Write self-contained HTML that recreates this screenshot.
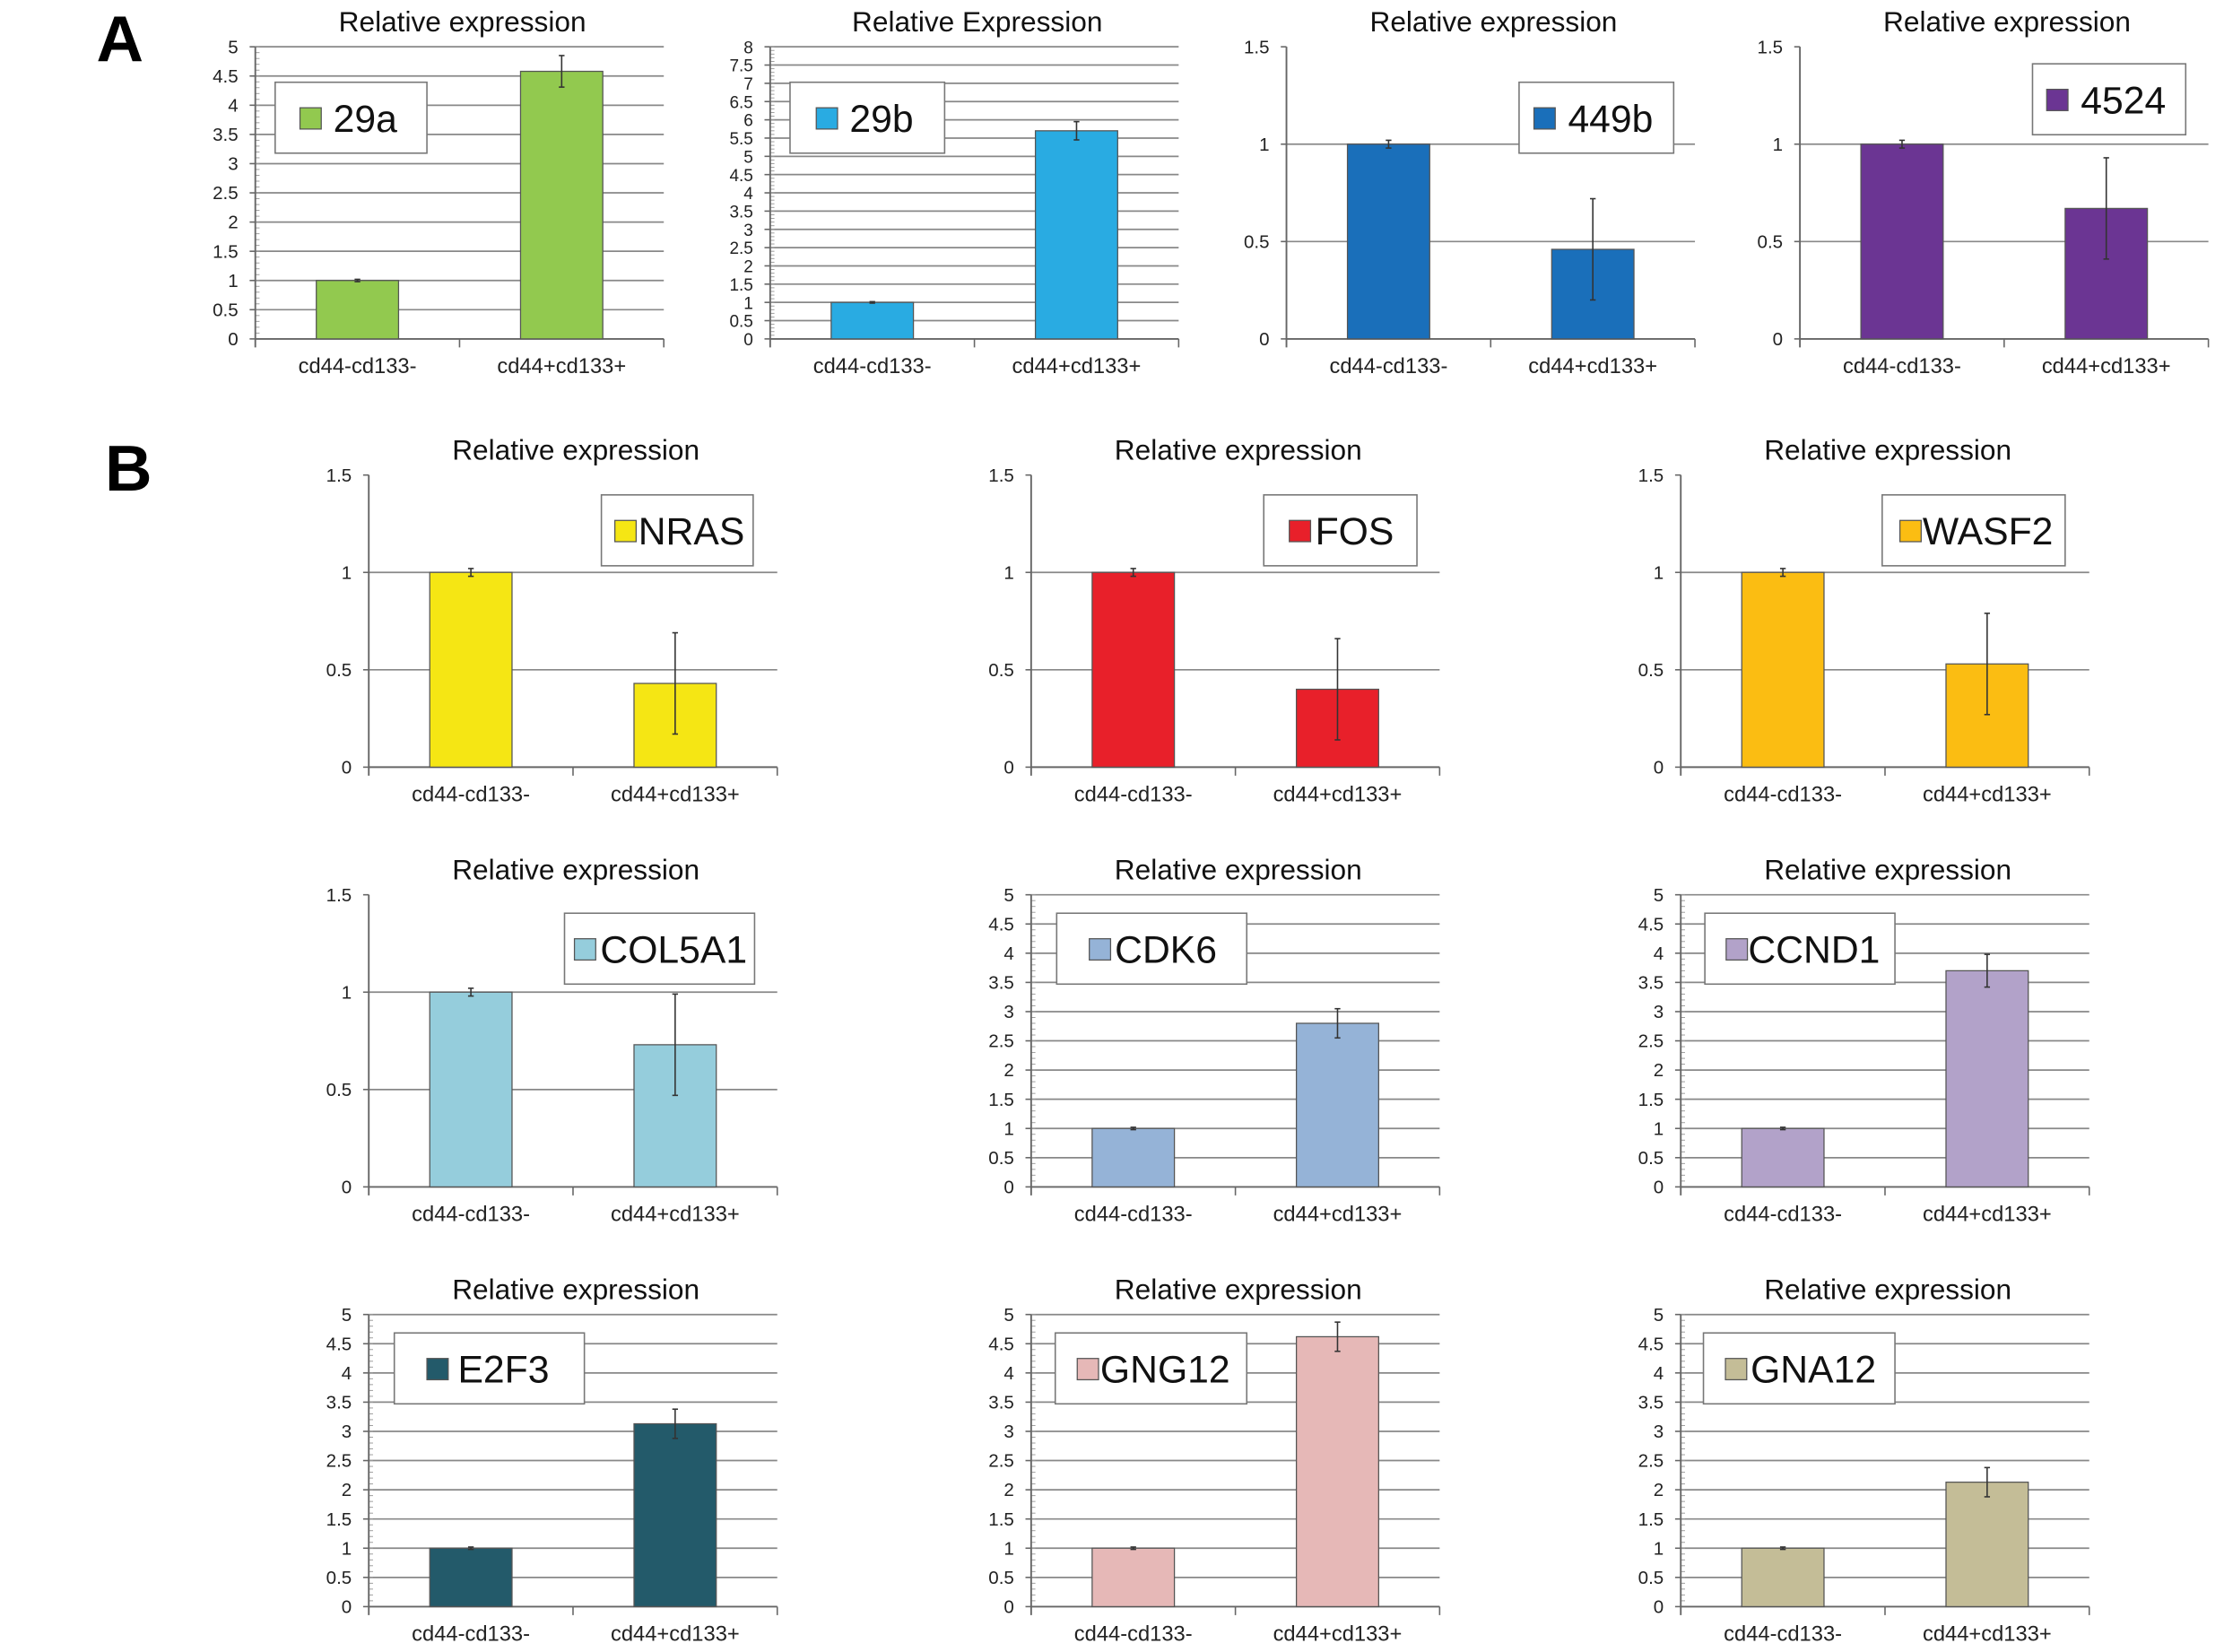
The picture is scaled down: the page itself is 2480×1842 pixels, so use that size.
<!DOCTYPE html>
<html><head><meta charset="utf-8"><style>
html,body{margin:0;padding:0;background:#fff}
svg{display:block;font-family:"Liberation Sans",Arial,sans-serif}
</style></head><body>
<svg id="fig" width="2480" height="1842" viewBox="0 0 1568 1165" preserveAspectRatio="none" xmlns="http://www.w3.org/2000/svg">
<text x="68" y="43" font-size="46" font-weight="bold">A</text>
<text x="74" y="346" font-size="46" font-weight="bold">B</text>
</svg>
<script>
const categories = ["cd44-cd133-", "cd44+cd133+"];
const genes = ["29a","29b","449b","4524","NRAS","FOS","WASF2","COL5A1","CDK6","CCND1","E2F3","GNG12","GNA12"];
const titles = ["Relative expression","Relative Expression","Relative expression","Relative expression","Relative expression","Relative expression","Relative expression","Relative expression","Relative expression","Relative expression","Relative expression","Relative expression","Relative expression"];
const negValues = [1,1,1,1,1,1,1,1,1,1,1,1,1];
const posValues = [4.58,5.7,0.46,0.67,0.43,0.40,0.53,0.73,2.8,3.7,3.13,4.62,2.13];
const posErrors = [0.27,0.25,0.26,0.26,0.26,0.26,0.26,0.26,0.25,0.28,0.25,0.25,0.25];
const negErrors = [0.02,0.02,0.02,0.02,0.02,0.02,0.02,0.02,0.02,0.02,0.02,0.02,0.02];
const yMaxes = [5,8,1.5,1.5,1.5,1.5,1.5,1.5,5,5,5,5,5];
const colors = ["#92c94f","#29abe2","#1a6fba","#6b3593","#f5e614","#e8202a","#fbbd12","#95cddc","#95b3d7","#b2a2c9","#235a6a","#e6b8b7","#c4bd97"];

const layout = [
 {x:180,y:33,lx:194,ly:58,lw:107},{x:543,y:33,lx:557,ly:58,lw:109},{x:907,y:33,lx:1071,ly:58,lw:109},{x:1269,y:33,lx:1433,ly:45,lw:108},
 {x:260,y:335,lx:424,ly:349,lw:107},{x:727,y:335,lx:891,ly:349,lw:108},{x:1185,y:335,lx:1327,ly:349,lw:129},
 {x:260,y:631,lx:398,ly:644,lw:134},{x:727,y:631,lx:745,ly:644,lw:134},{x:1185,y:631,lx:1202,ly:644,lw:134},
 {x:260,y:927,lx:278,ly:940,lw:134},{x:727,y:927,lx:744,ly:940,lw:135},{x:1185,y:927,lx:1201,ly:940,lw:135}
];
const W=288,H=206,NS="http://www.w3.org/2000/svg";
const svg=document.getElementById('fig');
function mk(t,a,p){const e=document.createElementNS(NS,t);for(const k in a)e.setAttribute(k,a[k]);(p||svg).appendChild(e);return e;}
genes.forEach((g,i)=>{
  const L=layout[i],ym=yMaxes[i];
  const grp=mk('g',{});
  
  
  const y=v=>L.y+H-v/ym*H;
  const step=0.5;
  const minor = ym<=1.5?0:0.1;
  for(let v=0;v<=ym+1e-9;v+=step){
    const yy=y(v);
    if(v>0 && !(ym<=1.5 && v>=ym-1e-9)) mk('line',{x1:L.x,x2:L.x+W,y1:yy,y2:yy,stroke:'#888','stroke-width':1.1},grp);
    const t=mk('text',{x:L.x-12,y:yy+4.5,'font-size':ym>5?12:13,'text-anchor':'end',fill:'#222'},grp);
    t.textContent=String(+v.toFixed(1));
    
    
    mk('line',{x1:L.x-4,x2:L.x,y1:yy,y2:yy,stroke:'#666','stroke-width':1},grp);
  }
  if(minor){for(let v=0;v<=ym;v+=minor){const yy=y(v);mk('line',{x1:L.x,x2:L.x+3,y1:yy,y2:yy,stroke:'#999','stroke-width':0.6},grp);}}
  mk('line',{x1:L.x,x2:L.x,y1:L.y,y2:L.y+H+6,stroke:'#666','stroke-width':1.2},grp);
  mk('line',{x1:L.x,x2:L.x+W,y1:L.y+H,y2:L.y+H,stroke:'#666','stroke-width':1.2},grp);
  [0.5,1].forEach(f=>mk('line',{x1:L.x+W*f,x2:L.x+W*f,y1:L.y+H,y2:L.y+H+6,stroke:'#666','stroke-width':1},grp));
  const vals=[negValues[i],posValues[i]],errs=[negErrors[i],posErrors[i]];
  vals.forEach((v,j)=>{
    const bx=L.x+W/4+W/2*j-29;
    const r=mk('rect',{x:bx,y:y(v),width:58,height:y(0)-y(v),fill:colors[i],stroke:'#555','stroke-width':0.8},grp);
    
    
    const cx=bx+29,e=errs[j];
    mk('line',{x1:cx,x2:cx,y1:y(v+e),y2:y(v-e),stroke:'#333','stroke-width':1},grp);
    mk('line',{x1:cx-2,x2:cx+2,y1:y(v+e),y2:y(v+e),stroke:'#333','stroke-width':1},grp);
    mk('line',{x1:cx-2,x2:cx+2,y1:y(v-e),y2:y(v-e),stroke:'#333','stroke-width':1},grp);
    const t=mk('text',{x:cx,y:L.y+H+24,'font-size':15,'text-anchor':'middle',fill:'#222'},grp);
    t.textContent=categories[j];
    
    
  });
  const tt=mk('text',{x:L.x+W/2+2,y:L.y-11,'font-size':20,'text-anchor':'middle',fill:'#111'},grp);
  tt.textContent=titles[i];
  
  
  const lg=mk('g',{},grp);
  
  
  mk('rect',{x:L.lx,y:L.ly,width:L.lw,height:50,fill:'#fff',stroke:'#777','stroke-width':1},lg);
  const tw=g.length*16;
  const lt=mk('text',{x:L.lx+L.lw/2+10,y:L.ly+35,'font-size':27,'text-anchor':'middle',fill:'#111'},lg);
  lt.textContent=g;
  mk('rect',{x:L.lx+L.lw/2+10-tw/2-22,y:L.ly+18,width:15,height:15,fill:colors[i],stroke:'#555','stroke-width':0.8},lg);
});
</script>
</body></html>
